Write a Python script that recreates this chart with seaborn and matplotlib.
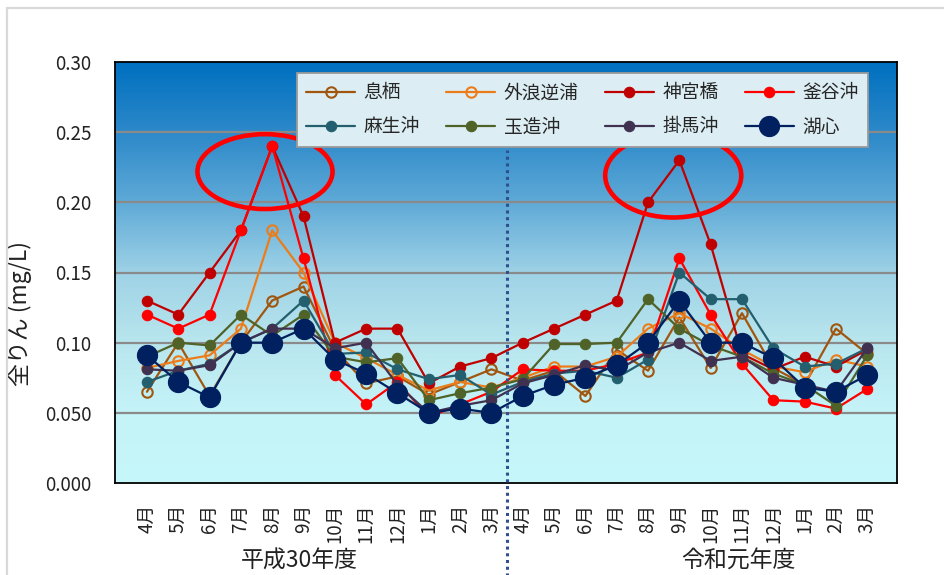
import numpy as np
import matplotlib
matplotlib.use("Agg")
import matplotlib.pyplot as plt
from matplotlib.patches import Ellipse
from matplotlib.lines import Line2D
from matplotlib.colors import LinearSegmentedColormap
import seaborn as sns

sns.set_theme(style="white")
plt.rcParams["font.family"] = ["Noto Sans CJK JP", "DejaVu Sans"]

# 月ラベル（平成30年度 4月〜3月、令和元年度 4月〜3月）
months = ["4月", "5月", "6月", "7月", "8月", "9月", "10月", "11月", "12月", "1月", "2月", "3月"]
month_labels = months + months
fiscal_years = ["平成30年度", "令和元年度"]

# 地点名
sites = ["息栖", "外浪逆浦", "神宮橋", "釜谷沖", "麻生沖", "玉造沖", "掛馬沖", "湖心"]

# 全りん濃度 (mg/L)
ikisu = [0.065, 0.100, 0.062, 0.100, 0.130, 0.140, 0.095, 0.071, 0.076, 0.063, 0.072, 0.081,
         0.073, 0.080, 0.062, 0.095, 0.080, 0.118, 0.082, 0.121, 0.082, 0.070, 0.110, 0.092]
sotonasakaura = [0.082, 0.087, 0.091, 0.110, 0.180, 0.150, 0.100, 0.089, 0.077, 0.066, 0.072, 0.068,
                 0.075, 0.083, 0.083, 0.090, 0.110, 0.121, 0.110, 0.095, 0.083, 0.079, 0.088, 0.083]
jingubashi = [0.130, 0.120, 0.150, 0.180, 0.240, 0.190, 0.100, 0.110, 0.110, 0.071, 0.083, 0.089,
              0.100, 0.110, 0.120, 0.130, 0.200, 0.230, 0.170, 0.092, 0.081, 0.090, 0.083, 0.095]
kamayaoki = [0.120, 0.110, 0.120, 0.180, 0.240, 0.160, 0.077, 0.056, 0.072, 0.047, 0.056, 0.065,
             0.081, 0.080, 0.080, 0.085, 0.093, 0.160, 0.120, 0.085, 0.059, 0.058, 0.053, 0.067]
asooki = [0.072, 0.080, 0.085, 0.100, 0.110, 0.130, 0.092, 0.093, 0.081, 0.074, 0.077, 0.063,
          0.072, 0.078, 0.080, 0.075, 0.088, 0.150, 0.131, 0.131, 0.096, 0.083, 0.085, 0.096]
tamatsukuri = [0.090, 0.100, 0.098, 0.120, 0.105, 0.120, 0.090, 0.086, 0.089, 0.059, 0.064, 0.068,
               0.074, 0.099, 0.099, 0.100, 0.131, 0.110, 0.098, 0.090, 0.078, 0.070, 0.055, 0.091]
kakemaoki = [0.081, 0.080, 0.084, 0.100, 0.110, 0.110, 0.096, 0.100, 0.070, 0.050, 0.055, 0.059,
             0.071, 0.077, 0.084, 0.080, 0.093, 0.100, 0.087, 0.090, 0.075, 0.070, 0.065, 0.096]
koshin = [0.091, 0.072, 0.061, 0.100, 0.100, 0.110, 0.088, 0.078, 0.064, 0.050, 0.053, 0.050,
          0.062, 0.070, 0.075, 0.084, 0.100, 0.130, 0.100, 0.100, 0.089, 0.068, 0.065, 0.077]

series = [ikisu, sotonasakaura, jingubashi, kamayaoki, asooki, tamatsukuri, kakemaoki, koshin]
colors = ["#a0560f", "#ec7c1a", "#c00000", "#ff0000", "#235f6e", "#4f6228", "#403151", "#002060"]
hollow = [True, True, False, False, False, False, False, False]
msizes = [7.5, 7.5, 7.5, 7.5, 7.5, 7.5, 7.5, 14.5]

yticks = [0.0, 0.05, 0.10, 0.15, 0.20, 0.25, 0.30]
ytick_labels = ["0.000", "0.050", "0.10", "0.15", "0.20", "0.25", "0.30"]

W, H = 945, 575
fig = plt.figure(figsize=(W / 100, H / 100), dpi=100)
fig.patch.set_facecolor("white")
ax = fig.add_axes([115 / W, 1 - 483 / H, (897 - 115) / W, (483 - 62) / H])

x = np.arange(len(month_labels))

# 背景のグラデーション
stops = [(0.0, (198, 247, 250)), (0.167, (196, 243, 248)), (0.333, (185, 230, 238)),
         (0.5, (158, 210, 230)), (0.667, (95, 170, 215)), (0.833, (45, 137, 201)),
         (1.0, (0, 112, 192))]
cmap = LinearSegmentedColormap.from_list(
    "bg", [(t, tuple(c / 255 for c in rgb)) for t, rgb in stops])
grad = np.linspace(0, 1, 400).reshape(-1, 1)
ax.imshow(grad, cmap=cmap, origin="lower", aspect="auto",
          extent=(0, 1, 0, 1), transform=ax.transAxes, zorder=0)

for yv in yticks[1:-1]:
    ax.axhline(yv, color="#8a8a8a", lw=1.6, zorder=1)

handles = []
for name, vals, col, hol, ms in zip(sites, series, colors, hollow, msizes):
    sns.lineplot(x=x, y=vals, ax=ax, color=col, lw=1.6, marker="o", markersize=ms,
                 mfc="none" if hol else col, mec=col, mew=1.5 if hol else 0.8,
                 zorder=3, legend=False)
    line = ax.lines[-1]
    line.set_label(name)
    handles.append(line)

ax.set_xlim(-1.02, 23.95)
ax.set_ylim(0, 0.30)
ax.set_xticks(x)
ax.set_xticklabels(month_labels, rotation=90, fontsize=13.5)
ax.set_yticks(yticks)
ax.set_yticklabels(ytick_labels, fontsize=13.5)
ax.tick_params(axis="x", direction="in", length=6, width=1.2, color="black", pad=15)
ax.tick_params(axis="y", direction="in", length=6, width=1.2, color="black", pad=17)
for lab in ax.get_xticklabels() + ax.get_yticklabels():
    lab.set_color("#222222")
for sp in ax.spines.values():
    sp.set_visible(True)
    sp.set_color("black")
    sp.set_linewidth(1.3)
ax.set_xlabel("")

# 年度の区切り
ax.axvline(11.5, ymin=-0.22, ymax=0.79, clip_on=False, color="#2f4f8f",
           lw=2.2, ls=(0, (1, 1.2)), zorder=4)

# 注目箇所の楕円
px_x = lambda px: (px - 147) / 31.3
px_w = lambda px: px / 31.3
px_y = lambda py: (484 - py) / 1406
ax.add_patch(Ellipse((px_x(265), px_y(172)), px_w(135), 75 / 1406,
                     fill=False, ec="#ff0000", lw=3.3, zorder=5))
ax.add_patch(Ellipse((px_x(673), px_y(176)), px_w(136), 84 / 1406,
                     fill=False, ec="#ff0000", lw=3.3, zorder=5))

# 凡例（4列×2行）
order = [0, 4, 1, 5, 2, 6, 3, 7]
leg = ax.legend([handles[i] for i in order], [sites[i] for i in order], ncol=4,
                loc="upper left", bbox_to_anchor=(0.2327, 0.803, 0.73, 0.171), mode="expand",
                fontsize=13.5, frameon=True, fancybox=False, framealpha=1,
                facecolor="#dceef4", edgecolor="#9a9a9a", handlelength=2.6,
                handletextpad=0.45, borderpad=0.5, labelspacing=0.7, borderaxespad=0)
leg.get_frame().set_linewidth(1.3)
leg.set_zorder(6)

ax.set_ylabel("全りん (mg/L)", fontsize=16.5, color="#222222")
ax.yaxis.set_label_coords((32 - 115) / (897 - 115), (483 - 314) / (483 - 62))

fig.text(299 / W, 1 - 561 / H, fiscal_years[0], ha="center", va="center",
         fontsize=16.5, color="#222222")
fig.text(738 / W, 1 - 561 / H, fiscal_years[1], ha="center", va="center",
         fontsize=16.5, color="#222222")

# 外枠
fig.add_artist(Line2D([7 / W, 7 / W], [0, 1 - 8 / H], color="#d9d9d9", lw=1.6))
fig.add_artist(Line2D([7 / W, 1], [1 - 8 / H, 1 - 8 / H], color="#d9d9d9", lw=1.6))

fig.savefig("out.png", dpi=100, facecolor="white")
